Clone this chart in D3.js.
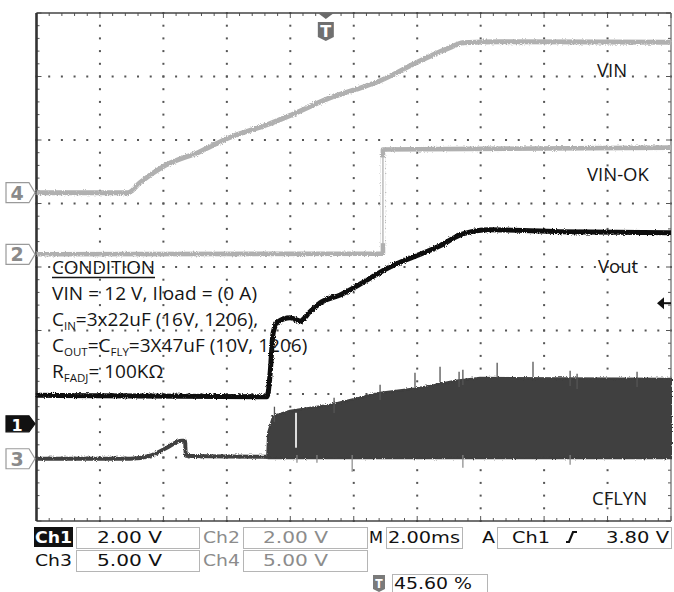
<!DOCTYPE html>
<html>
<head>
<meta charset="utf-8">
<script src="https://d3js.org/d3.v7.min.js"></script>
<style>
  body { margin: 0; background: #fff; }
</style>
</head>
<body>
<div id="scope"></div>
<script>
// time in ms (2 ms/div, trigger at 45.6 %), amplitudes in volts

// Ch4 - VIN (5 V/div)
var vinT = [-9.12, -6.23, -5.86, -5.13, -3.97, -3.05, -1.85, -1.07, 0.23, 0.92, 1.71, 2.91, 3.91, 4.32, 5.49, 10.88];
var vinV = [0, 0, 0.79, 2.05, 3.23, 4.33, 5.35, 6.14, 7.56, 8.11, 8.82, 10.31, 11.42, 11.81, 11.89, 11.85];

// Ch2 - VIN-OK (2 V/div)
var vinokT = [-9.12, 1.80, 1.80, 10.88];
var vinokV = [0, 0.02, 3.30, 3.36];

// Ch1 - Vout (2 V/div)
var voutT = [-9.12, -1.85, -1.76, -1.66, -1.51, -1.13, -0.81, -0.50, -0.18, 0.45, 2.02, 3.60, 4.32, 5.17, 7.38, 10.88];
var voutV = [0.90, 0.85, 1.54, 2.87, 3.21, 3.34, 3.24, 3.53, 3.81, 4.06, 4.94, 5.61, 5.98, 6.11, 6.05, 6.02];

// Ch3 - CFLYN (5 V/div), before switching starts
var cflynT = [-9.12, -6.17, -5.54, -5.07, -4.54, -4.44, -4.41, -1.85];
var cflynV = [0, 0, 0.24, 0.79, 1.42, 1.42, 0.24, 0.16];
// switching envelope
var envT    = [-1.85, -1.82, -1.66, -1.13, 0.13, 1.71, 2.97, 4.07, 4.86, 10.88];
var envHigh = [0.16, 2.05, 3.39, 3.78, 4.25, 5.20, 5.59, 6.14, 6.38, 6.30];
var envLow  = [0.10, 0.05, 0.05, 0.05, 0.05, 0.05, 0.05, 0.05, 0.05, 0.05];
// ringing spikes on the envelope
var spikeUpT = [-1.62, 0.26, 1.71, 2.81, 3.60, 4.20, 4.32, 5.40, 6.53, 7.70, 7.92, 9.81];
var spikeUpV = [4.10, 4.80, 5.83, 6.77, 7.24, 6.85, 7.01, 7.56, 7.64, 6.93, 6.69, 6.85];
var spikeDnT = [-0.91, -0.28, 0.83, 4.32, 7.70];
var spikeDnV = [-0.31, -0.31, -1.02, -0.71, -0.47];
var notchT = -0.94, notchV = [0.87, 3.62];

// channel settings
var chNames  = ["1", "2", "3", "4"];
var chVdiv   = [2, 2, 5, 5];
var chGround = [6.47, 3.80, 7.02, 2.83];   // divisions from top
var trigLevel = 3.80;                      // Ch1

var traceLabels = ["VIN", "VIN-OK", "Vout", "CFLYN"];

var W = 674, H = 592;
var gx0 = 36.5, gx1 = 671, gy0 = 13, gy1 = 521;

var svg = d3.select("#scope").append("svg")
    .attr("width", W).attr("height", H)
    .style("font-family", "'Open Sans', sans-serif");

// a little grain on the traces, like the scope's display
var defs = svg.append("defs");
var flt = defs.append("filter").attr("id", "fuzz")
  .attr("x", "-2%").attr("y", "-20%").attr("width", "104%").attr("height", "140%");
flt.append("feTurbulence").attr("type", "fractalNoise").attr("baseFrequency", "0.9")
  .attr("numOctaves", 1).attr("seed", 3).attr("result", "n");
flt.append("feDisplacementMap").attr("in", "SourceGraphic").attr("in2", "n")
  .attr("scale", 3.5).attr("xChannelSelector", "R").attr("yChannelSelector", "G");

var x = d3.scaleLinear().domain([-9.12, 10.88]).range([gx0, gx1]);
var divX = d3.scaleLinear().domain([0, 10]).range([gx0, gx1]);
var divY = d3.scaleLinear().domain([0, 8]).range([gy0, gy1]);

function chScale(i) {
  var g = divY(chGround[i]);
  return d3.scaleLinear().domain([0, chVdiv[i]]).range([g, g - (gy1 - gy0) / 8]);
}
var y1 = chScale(0), y2 = chScale(1), y3 = chScale(2), y4 = chScale(3);

// ---- graticule ----
var grid = svg.append("g").attr("fill", "#555");
d3.range(1, 10).forEach(function(i) {
  d3.range(0, 41).forEach(function(j) {
    grid.append("rect").attr("x", divX(i) - 1).attr("y", divY(j / 5) - 1)
      .attr("width", 2).attr("height", 2);
  });
});
d3.range(1, 8).forEach(function(j) {
  d3.range(0, 51).forEach(function(k) {
    grid.append("rect").attr("x", divX(k / 5) - 1).attr("y", divY(j) - 1)
      .attr("width", 2).attr("height", 2);
  });
});
// border ticks
var ticks = svg.append("g").attr("stroke", "#555").attr("stroke-width", 1);
d3.range(0, 51).forEach(function(k) {
  var xx = divX(k / 5), len = (k % 5 === 0) ? 5 : 3;
  ticks.append("line").attr("x1", xx).attr("x2", xx).attr("y1", gy0).attr("y2", gy0 + len);
  ticks.append("line").attr("x1", xx).attr("x2", xx).attr("y1", gy1).attr("y2", gy1 - len);
});
d3.range(0, 41).forEach(function(j) {
  var yy = divY(j / 5), len = (j % 5 === 0) ? 5 : 3;
  ticks.append("line").attr("x1", gx0).attr("x2", gx0 + len).attr("y1", yy).attr("y2", yy);
  ticks.append("line").attr("x1", gx1).attr("x2", gx1 - len).attr("y1", yy).attr("y2", yy);
});
svg.append("line").attr("x1", gx0).attr("x2", gx1).attr("y1", gy0).attr("y2", gy0)
  .attr("stroke", "#444").attr("stroke-width", 1.5);
svg.append("line").attr("x1", gx0).attr("x2", gx1).attr("y1", gy1).attr("y2", gy1)
  .attr("stroke", "#444").attr("stroke-width", 1.5);
svg.append("line").attr("x1", gx1).attr("x2", gx1).attr("y1", gy0).attr("y2", gy1)
  .attr("stroke", "#666").attr("stroke-width", 1.2);
svg.append("line").attr("x1", gx0).attr("x2", gx0).attr("y1", gy0).attr("y2", gy1)
  .attr("stroke", "#333").attr("stroke-width", 2.6);

// ---- traces ----
function zip(t, v) { return t.map(function(d, i) { return [d, v[i]]; }); }
function trace(t, v, ys, color, w, curve) {
  var line = d3.line().curve(curve || d3.curveLinear)
    .x(function(d) { return x(d[0]); }).y(function(d) { return ys(d[1]); });
  svg.append("path").datum(zip(t, v)).attr("d", line)
    .attr("fill", "none").attr("stroke", color).attr("stroke-width", w)
    .attr("stroke-linejoin", "round").attr("filter", "url(#fuzz)");
}

trace(vinT, vinV, y4, "#b0b0b0", 5, d3.curveMonotoneX);
trace(vinokT, vinokV, y2, "#b0b0b0", 4.6);
// the vertical edge of VIN-OK is thin
svg.append("line").attr("x1", x(1.80)).attr("x2", x(1.80))
  .attr("y1", y2(0.35)).attr("y2", y2(3.05)).attr("stroke", "#fff").attr("stroke-width", 4.5);
svg.append("line").attr("x1", x(1.80)).attr("x2", x(1.80))
  .attr("y1", y2(0)).attr("y2", y2(3.3)).attr("stroke", "#b0b0b0").attr("stroke-width", 1.3);

// CFLYN
trace(cflynT, cflynV, y3, "#414141", 4, d3.curveMonotoneX);
var env = zip(envT, envHigh).map(function(d, i) { return [d[0], d[1], envLow[i]]; });
svg.append("path").datum(env)
  .attr("d", d3.area().x(function(d) { return x(d[0]); })
    .y0(function(d) { return y3(d[2]); }).y1(function(d) { return y3(d[1]); }))
  .attr("fill", "#3f3f3f").attr("stroke", "#3f3f3f").attr("stroke-width", 2)
  .attr("filter", "url(#fuzz)");
svg.append("g").selectAll("line").data(zip(spikeUpT, spikeUpV)).enter().append("line")
  .attr("x1", function(d) { return x(d[0]); }).attr("x2", function(d) { return x(d[0]); })
  .attr("y1", function(d) { return y3(d[1]); })
  .attr("y2", function(d) { return y3(d[1] - 1.2); })
  .attr("stroke", "#555").attr("stroke-width", 1.3);
svg.append("g").selectAll("line").data(zip(spikeDnT, spikeDnV)).enter().append("line")
  .attr("x1", function(d) { return x(d[0]); }).attr("x2", function(d) { return x(d[0]); })
  .attr("y1", function(d) { return y3(d[1]); })
  .attr("y2", y3(0.3))
  .attr("stroke", "#888").attr("stroke-width", 1.2);
svg.append("line").attr("x1", x(notchT)).attr("x2", x(notchT))
  .attr("y1", y3(notchV[0])).attr("y2", y3(notchV[1]))
  .attr("stroke", "#ddd").attr("stroke-width", 2);

trace(voutT, voutV, y1, "#0c0c0c", 5, d3.curveMonotoneX);

// ---- channel ground markers ----
var mk = svg.append("g");
chNames.forEach(function(n, i) {
  var yy = divY(chGround[i]);
  var solid = (n === "1");
  var h = solid ? 8 : 10;
  mk.append("path")
    .attr("d", "M6," + (yy - h) + "H29L35," + yy + "L29," + (yy + h) + "H6Z")
    .attr("fill", solid ? "#111" : "#fff")
    .attr("stroke", solid ? "#111" : "#9a9a9a").attr("stroke-width", 1.2);
  mk.append("text").attr("x", 17).attr("y", yy + 7).attr("text-anchor", "middle")
    .attr("font-family", "'DejaVu Sans', sans-serif").attr("font-weight", "bold")
    .attr("font-size", solid ? 16 : 19)
    .attr("fill", solid ? "#fff" : "#8a8a8a").text(n);
});

// trigger position marker (top) and trigger level arrow (right)
var tx = x(0);
svg.append("path").attr("d", "M" + (tx - 8) + "," + gy0 + "H" + (tx + 8) + "L" + tx + "," + (gy0 + 6) + "Z")
  .attr("fill", "#6a6a6a");
svg.append("path")
  .attr("d", "M" + (tx - 8) + ",22H" + (tx + 8) + "V37L" + tx + ",41L" + (tx - 8) + ",37Z")
  .attr("fill", "#707070");
svg.append("text").attr("x", tx).attr("y", 37).attr("text-anchor", "middle")
  .attr("font-family", "'DejaVu Sans', sans-serif").attr("font-weight", "bold")
  .attr("font-size", 16).attr("fill", "#fff").text("T");
var ty = y1(trigLevel);
svg.append("path").attr("d", "M" + (gx1 - 14) + "," + ty + "L" + (gx1 - 7) + "," + (ty - 6) + "V" + (ty + 6) + "Z")
  .attr("fill", "#111");
svg.append("line").attr("x1", gx1 - 9).attr("x2", gx1).attr("y1", ty).attr("y2", ty)
  .attr("stroke", "#111").attr("stroke-width", 2);

// ---- trace labels ----
var lab = svg.append("g").attr("font-size", 18.5).attr("fill", "#151515");
var labPos = [[597, 77], [587, 181], [598, 273], [592, 505]];
traceLabels.forEach(function(s, i) {
  lab.append("text").attr("x", labPos[i][0]).attr("y", labPos[i][1]).text(s);
});

// ---- condition text ----
var cond = svg.append("g").attr("font-size", 19).attr("fill", "#151515");
cond.append("text").attr("x", 52).attr("y", 274).attr("textLength", 103).text("CONDITION");
cond.append("line").attr("x1", 52).attr("x2", 155).attr("y1", 277.5).attr("y2", 277.5)
  .attr("stroke", "#151515").attr("stroke-width", 1.3);
cond.append("text").attr("x", 52).attr("y", 300).attr("textLength", 205).text("VIN = 12 V, Iload = (0 A)");
var t3 = cond.append("text").attr("x", 52).attr("y", 326);
t3.append("tspan").text("C");
t3.append("tspan").attr("font-size", 11.5).attr("dy", 4).text("IN");
t3.append("tspan").attr("dy", -4).text("=3x22uF (16V, 1206),");
var t4 = cond.append("text").attr("x", 52).attr("y", 352);
t4.append("tspan").text("C");
t4.append("tspan").attr("font-size", 11.5).attr("dy", 4).text("OUT");
t4.append("tspan").attr("dy", -4).text("=C");
t4.append("tspan").attr("font-size", 11.5).attr("dy", 4).text("FLY");
t4.append("tspan").attr("dy", -4).text("=3X47uF (10V, 1206)");
var t5 = cond.append("text").attr("x", 52).attr("y", 378);
t5.append("tspan").text("R");
t5.append("tspan").attr("font-size", 11.5).attr("dy", 4).text("FADJ");
t5.append("tspan").attr("dy", -4).text("= 100K\u03A9");

// ---- status readout ----
var st = svg.append("g").attr("font-family", "'DejaVu Sans Condensed', 'DejaVu Sans', sans-serif")
  .attr("font-size", 16.5);
function box(x0, y0, w, h) {
  st.append("rect").attr("x", x0 + 0.5).attr("y", y0 + 0.5).attr("width", w).attr("height", h)
    .attr("fill", "#fff").attr("stroke", "#b5b5b5").attr("stroke-width", 1);
}
function txt(s, x0, yb, len, col, weight) {
  st.append("text").attr("x", x0).attr("y", yb).attr("fill", col || "#111")
    .attr("font-weight", weight || "normal")
    .attr("textLength", len).attr("lengthAdjust", "spacingAndGlyphs").text(s);
}
var row = [527, 550, 574];
var base = [543, 566, 589];
st.append("rect").attr("x", 34).attr("y", row[0]).attr("width", 39).attr("height", 20).attr("fill", "#111");
txt("Ch1", 35, base[0], 37, "#fff", "bold");
box(76, row[0], 123, 21); txt("2.00 V", 97, base[0], 65);
txt("Ch2", 203, base[0], 37, "#8c8c8c");
box(243, row[0], 124, 21); txt("2.00 V", 263, base[0], 65, "#8c8c8c");
txt("Ch3", 35, base[1], 37);
box(76, row[1], 123, 21); txt("5.00 V", 97, base[1], 65);
txt("Ch4", 203, base[1], 37, "#8c8c8c");
box(243, row[1], 124, 21); txt("5.00 V", 263, base[1], 65, "#8c8c8c");
txt("M", 369, base[0], 14);
box(386, row[0], 76, 21); txt("2.00ms", 388, base[0], 72);
txt("A", 482, base[0], 13);
box(497, row[0], 174, 21);
txt("Ch1", 512, base[0], 38);
st.append("path").attr("d", "M566," + (base[0] - 1) + "H569L573," + (base[0] - 11) + "H577")
  .attr("fill", "none").attr("stroke", "#111").attr("stroke-width", 2.2);
txt("3.80 V", 606, base[0], 63);
st.append("path").attr("d", "M373,575H385V589L379,592L373,589Z").attr("fill", "#7a7a7a");
st.append("text").attr("x", 379).attr("y", 588).attr("text-anchor", "middle")
  .attr("font-size", 12).attr("font-weight", "bold").attr("fill", "#fff").text("T");
box(392, row[2], 95, 22); txt("45.60 %", 394, base[2], 78);
</script>
</body>
</html>
